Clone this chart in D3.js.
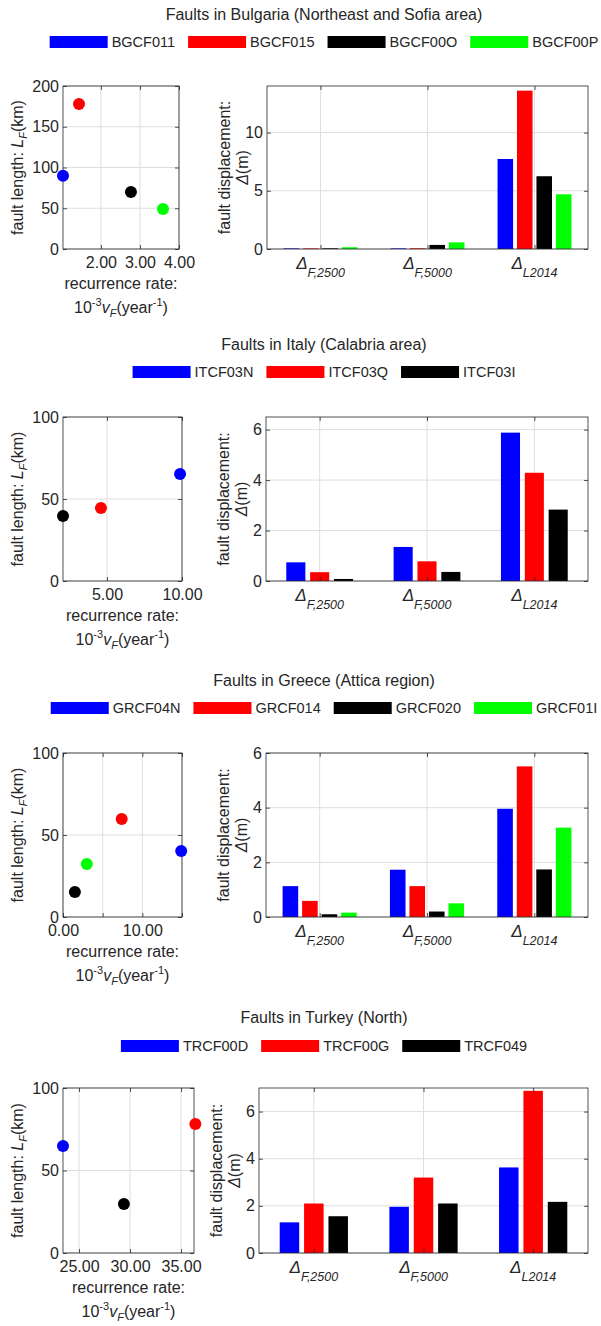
<!DOCTYPE html>
<html>
<head>
<meta charset="utf-8">
<script src="https://cdn.jsdelivr.net/npm/d3@7"></script>
<style>
  body { margin: 0; background: #fff; }
  svg text { font-family: "Liberation Sans", Arial, Helvetica, sans-serif; fill: #262626; }
</style>
</head>
<body>
<svg id="fig" width="601" height="1326"></svg>
<script>
// ---- data ----------------------------------------------------------------
const faultColors = ["#0000ff", "#ff0000", "#000000", "#00ff00"];
const dispCategories = ["F,2500", "F,5000", "L2014"];

// Bulgaria
const bgTitle = "Faults in Bulgaria (Northeast and Sofia area)";
const bgFaults = ["BGCF011", "BGCF015", "BGCF00O", "BGCF00P"];
const bgRate = [1.03, 1.44, 2.77, 3.59];
const bgLength = [90, 178, 70, 49];
const bgDisp2500 = [0.05, 0.05, 0.06, 0.15];
const bgDisp5000 = [0.05, 0.06, 0.35, 0.57];
const bgDispL2014 = [7.73, 13.6, 6.25, 4.7];
const bgRateTicks = [2, 3, 4];
const bgRateTickLabels = ["2.00", "3.00", "4.00"];
const bgLengthTicks = [0, 50, 100, 150, 200];
const bgDispTicks = [0, 5, 10];

// Italy
const itTitle = "Faults in Italy (Calabria area)";
const itFaults = ["ITCF03N", "ITCF03Q", "ITCF03I"];
const itRate = [9.87, 4.6, 2.07];
const itLength = [65.2, 44.5, 39.6];
const itDisp2500 = [0.74, 0.35, 0.08];
const itDisp5000 = [1.35, 0.78, 0.36];
const itDispL2014 = [5.88, 4.29, 2.83];
const itRateTicks = [5, 10];
const itRateTickLabels = ["5.00", "10.00"];
const itLengthTicks = [0, 50, 100];
const itDispTicks = [0, 2, 4, 6];

// Greece
const grTitle = "Faults in Greece (Attica region)";
const grFaults = ["GRCF04N", "GRCF014", "GRCF020", "GRCF01I"];
const grRate = [14.9, 7.4, 1.5, 3.0];
const grLength = [40.2, 59.8, 15.2, 32.3];
const grDisp2500 = [1.13, 0.59, 0.1, 0.16];
const grDisp5000 = [1.73, 1.13, 0.2, 0.5];
const grDispL2014 = [3.96, 5.51, 1.74, 3.27];
const grRateTicks = [0, 5, 10, 15];
const grRateTickLabels = ["0.00", "", "10.00", ""];
const grLengthTicks = [0, 50, 100];
const grDispTicks = [0, 2, 4, 6];

// Turkey
const trTitle = "Faults in Turkey (North)";
const trFaults = ["TRCF00D", "TRCF00G", "TRCF049"];
const trRate = [23.43, 36.4, 29.4];
const trLength = [64.8, 78.2, 29.7];
const trDisp2500 = [1.30, 2.10, 1.56];
const trDisp5000 = [1.96, 3.2, 2.1];
const trDispL2014 = [3.63, 6.88, 2.17];
const trRateTicks = [25, 30, 35];
const trRateTickLabels = ["25.00", "30.00", "35.00"];
const trLengthTicks = [0, 50, 100];
const trDispTicks = [0, 2, 4, 6];

const regions = [
  { title: bgTitle, faults: bgFaults, rate: bgRate, length: bgLength,
    disp: [bgDisp2500, bgDisp5000, bgDispL2014],
    rateTicks: bgRateTicks, rateTickLabels: bgRateTickLabels,
    lengthTicks: bgLengthTicks, dispTicks: bgDispTicks,
    rateDomain: [1.03, 4], lengthDomain: [0, 200], dispDomain: [0, 14] },
  { title: itTitle, faults: itFaults, rate: itRate, length: itLength,
    disp: [itDisp2500, itDisp5000, itDispL2014],
    rateTicks: itRateTicks, rateTickLabels: itRateTickLabels,
    lengthTicks: itLengthTicks, dispTicks: itDispTicks,
    rateDomain: [2.07, 10], lengthDomain: [0, 100], dispDomain: [0, 6.5] },
  { title: grTitle, faults: grFaults, rate: grRate, length: grLength,
    disp: [grDisp2500, grDisp5000, grDispL2014],
    rateTicks: grRateTicks, rateTickLabels: grRateTickLabels,
    lengthTicks: grLengthTicks, dispTicks: grDispTicks,
    rateDomain: [0, 15], lengthDomain: [0, 100], dispDomain: [0, 6] },
  { title: trTitle, faults: trFaults, rate: trRate, length: trLength,
    disp: [trDisp2500, trDisp5000, trDispL2014],
    rateTicks: trRateTicks, rateTickLabels: trRateTickLabels,
    lengthTicks: trLengthTicks, dispTicks: trDispTicks,
    rateDomain: [23.43, 36.27], lengthDomain: [0, 100], dispDomain: [0, 7] }
];

// ---- layout --------------------------------------------------------------
const frames = [
  { titleY: 14,   legendY: 42,   top: 86,   bottom: 249,  scatterRight: 179, barLeft: 267 },
  { titleY: 344,  legendY: 372,  top: 417,  bottom: 581,  scatterRight: 182, barLeft: 266 },
  { titleY: 680,  legendY: 708,  top: 753,  bottom: 917,  scatterRight: 182, barLeft: 266 },
  { titleY: 1017, legendY: 1046, top: 1088, bottom: 1253, scatterRight: 194, barLeft: 259 }
];
const scatterLeft = 63, barRight = 588, centerX = 324;
const axisColor = "#262626", gridColor = "#dedede";
const tickFont = 16, labelFont = 16, legendFont = 14.5, titleFont = 16;

const svg = d3.select("#fig");

// writes a run of styled pieces into one text element (sub/superscripts, italics)
function richText(textSel, parts, baseSize) {
  let shift = 0;
  parts.forEach(p => {
    const s = p.shift || 0;
    const ts = textSel.append("tspan").text(p.t)
      .attr("font-size", p.size || baseSize)
      .attr("dy", s - shift);
    if (p.italic) ts.attr("font-style", "italic");
    shift = s;
  });
}

function styleAxis(g, size) {
  g.select(".domain").remove();
  g.attr("color", axisColor);
  g.selectAll("text").attr("font-size", size)
    .attr("font-family", '"Liberation Sans", Arial, Helvetica, sans-serif');
  g.selectAll(".tick line").attr("stroke", axisColor).attr("stroke-width", 0.8);
}

function drawBox(g, x0, y0, x1, y1) {
  g.append("rect").attr("x", x0).attr("y", y0)
    .attr("width", x1 - x0).attr("height", y1 - y0)
    .attr("fill", "none").attr("stroke", axisColor).attr("stroke-width", 0.8);
}

function drawRegion(region, fr) {
  const g = svg.append("g");

  // title
  g.append("text").attr("x", centerX).attr("y", fr.titleY + 6)
    .attr("text-anchor", "middle").attr("font-size", titleFont).text(region.title);

  // legend
  const lg = g.append("g");
  let lx = 0;
  region.faults.forEach((name, i) => {
    lg.append("rect").attr("x", lx).attr("y", fr.legendY - 6)
      .attr("width", 58).attr("height", 12).attr("fill", faultColors[i]);
    const t = lg.append("text").attr("x", lx + 62).attr("y", fr.legendY + 5)
      .attr("font-size", legendFont).text(name);
    lx += 62 + t.node().getComputedTextLength() + 13;
  });
  lg.attr("transform", `translate(${centerX - (lx - 13) / 2},0)`);

  // ---- scatter: fault length vs recurrence rate ----
  const xs = d3.scaleLinear().domain(region.rateDomain).range([scatterLeft, fr.scatterRight]);
  const ys = d3.scaleLinear().domain(region.lengthDomain).range([fr.bottom, fr.top]);
  const sg = g.append("g");

  sg.append("g").selectAll("line").data(region.rateTicks).join("line")
    .attr("x1", d => xs(d)).attr("x2", d => xs(d))
    .attr("y1", fr.top).attr("y2", fr.bottom)
    .attr("stroke", gridColor).attr("stroke-width", 1);
  sg.append("g").selectAll("line").data(region.lengthTicks).join("line")
    .attr("x1", scatterLeft).attr("x2", fr.scatterRight)
    .attr("y1", d => ys(d)).attr("y2", d => ys(d))
    .attr("stroke", gridColor).attr("stroke-width", 1);

  drawBox(sg, scatterLeft, fr.top, fr.scatterRight, fr.bottom);

  const rateFmt = (d, i) => region.rateTickLabels[i];
  sg.append("g").attr("transform", `translate(0,${fr.bottom})`)
    .call(d3.axisBottom(xs).tickValues(region.rateTicks).tickFormat(rateFmt)
      .tickSizeInner(-4).tickSizeOuter(0).tickPadding(8))
    .call(a => styleAxis(a, tickFont));
  sg.append("g").attr("transform", `translate(0,${fr.top})`)
    .call(d3.axisTop(xs).tickValues(region.rateTicks).tickFormat("")
      .tickSizeInner(-4).tickSizeOuter(0))
    .call(a => styleAxis(a, tickFont));
  sg.append("g").attr("transform", `translate(${scatterLeft},0)`)
    .call(d3.axisLeft(ys).tickValues(region.lengthTicks).tickFormat(d3.format("d"))
      .tickSizeInner(-4).tickSizeOuter(0).tickPadding(4))
    .call(a => styleAxis(a, tickFont));
  sg.append("g").attr("transform", `translate(${fr.scatterRight},0)`)
    .call(d3.axisRight(ys).tickValues(region.lengthTicks).tickFormat("")
      .tickSizeInner(-4).tickSizeOuter(0))
    .call(a => styleAxis(a, tickFont));

  sg.append("g").selectAll("circle").data(region.rate).join("circle")
    .attr("cx", d => xs(d)).attr("cy", (d, i) => ys(region.length[i]))
    .attr("r", 6).attr("fill", (d, i) => faultColors[i]);

  const scx = (scatterLeft + fr.scatterRight) / 2;
  const scy = (fr.top + fr.bottom) / 2;
  const yl = sg.append("text").attr("text-anchor", "middle")
    .attr("transform", `translate(${scatterLeft - 40},${scy}) rotate(-90)`);
  richText(yl, [
    { t: "fault length: " },
    { t: "L", italic: true },
    { t: "F", italic: true, size: 11, shift: 4 },
    { t: "(km)" }
  ], labelFont);

  sg.append("text").attr("x", scx).attr("y", fr.bottom + 40)
    .attr("text-anchor", "middle").attr("font-size", labelFont).text("recurrence rate:");
  const xl2 = sg.append("text").attr("x", scx).attr("y", fr.bottom + 64)
    .attr("text-anchor", "middle");
  richText(xl2, [
    { t: "10" },
    { t: "-3", size: 11, shift: -7 },
    { t: "v", italic: true },
    { t: "F", italic: true, size: 11, shift: 4 },
    { t: "(year" },
    { t: "-1", size: 11, shift: -7 },
    { t: ")" }
  ], labelFont);

  // ---- grouped bars: fault displacement ----
  const bx = d3.scaleLinear().domain([0.5, 3.5]).range([fr.barLeft, barRight]);
  const by = d3.scaleLinear().domain(region.dispDomain).range([fr.bottom, fr.top]);
  const bg = g.append("g");
  const cats = d3.range(1, dispCategories.length + 1);

  bg.append("g").selectAll("line").data(cats).join("line")
    .attr("x1", d => bx(d)).attr("x2", d => bx(d))
    .attr("y1", fr.top).attr("y2", fr.bottom)
    .attr("stroke", gridColor).attr("stroke-width", 1);
  bg.append("g").selectAll("line").data(region.dispTicks).join("line")
    .attr("x1", fr.barLeft).attr("x2", barRight)
    .attr("y1", d => by(d)).attr("y2", d => by(d))
    .attr("stroke", gridColor).attr("stroke-width", 1);

  const n = region.faults.length;
  const groupWidth = Math.min(0.8, n / (n + 1.5));
  const step = groupWidth / n;
  const barW = step * 0.8;
  const bars = [];
  region.disp.forEach((vals, c) => vals.forEach((v, i) => bars.push({ c, i, v })));
  bg.append("g").selectAll("rect").data(bars).join("rect")
    .attr("x", d => bx(d.c + 1 + (d.i - (n - 1) / 2) * step - barW / 2))
    .attr("width", bx(0.5 + barW) - bx(0.5))
    .attr("y", d => by(d.v))
    .attr("height", d => by(0) - by(d.v))
    .attr("fill", d => faultColors[d.i]);

  drawBox(bg, fr.barLeft, fr.top, barRight, fr.bottom);

  bg.append("g").attr("transform", `translate(0,${fr.bottom})`)
    .call(d3.axisBottom(bx).tickValues(cats).tickFormat("")
      .tickSizeInner(-4).tickSizeOuter(0))
    .call(a => styleAxis(a, tickFont));
  bg.append("g").attr("transform", `translate(0,${fr.top})`)
    .call(d3.axisTop(bx).tickValues(cats).tickFormat("")
      .tickSizeInner(-4).tickSizeOuter(0))
    .call(a => styleAxis(a, tickFont));
  bg.append("g").attr("transform", `translate(${fr.barLeft},0)`)
    .call(d3.axisLeft(by).tickValues(region.dispTicks).tickFormat(d3.format("d"))
      .tickSizeInner(-4).tickSizeOuter(0).tickPadding(4))
    .call(a => styleAxis(a, tickFont));
  bg.append("g").attr("transform", `translate(${barRight},0)`)
    .call(d3.axisRight(by).tickValues(region.dispTicks).tickFormat("")
      .tickSizeInner(-4).tickSizeOuter(0))
    .call(a => styleAxis(a, tickFont));

  dispCategories.forEach((sub, c) => {
    const t = bg.append("text").attr("x", bx(c + 1)).attr("y", fr.bottom + 20)
      .attr("text-anchor", "middle");
    richText(t, [
      { t: "Δ", italic: true },
      { t: sub, italic: true, size: 12.5, shift: 8 }
    ], 17);
  });

  const bcy = (fr.top + fr.bottom) / 2;
  bg.append("text").attr("text-anchor", "middle").attr("font-size", labelFont)
    .attr("transform", `translate(${fr.barLeft - 37},${bcy}) rotate(-90)`)
    .text("fault displacement:");
  const dl = bg.append("text").attr("text-anchor", "middle")
    .attr("transform", `translate(${fr.barLeft - 19},${bcy}) rotate(-90)`);
  richText(dl, [{ t: "Δ", italic: true }, { t: "(m)" }], labelFont);
}

regions.forEach((r, k) => drawRegion(r, frames[k]));
</script>
</body>
</html>
